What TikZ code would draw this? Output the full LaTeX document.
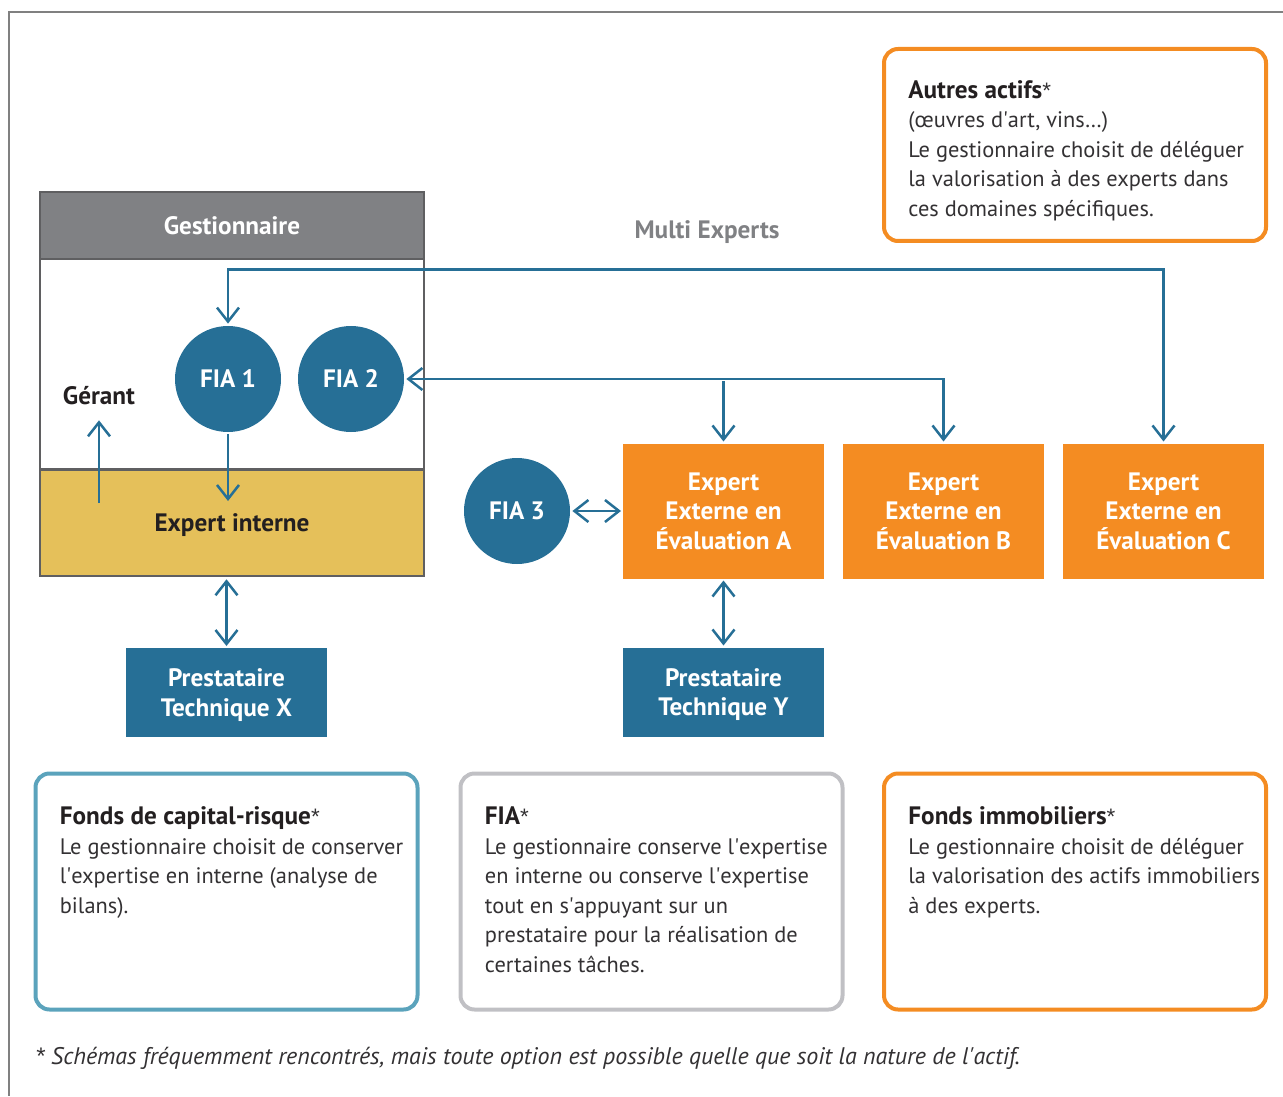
\documentclass[tikz,border=0pt]{standalone}
\usepackage{fontspec}
\setmainfont{PT Sans}
\newfontfamily\etoilefont{Liberation Sans}
\usetikzlibrary{arrows.meta,positioning}

\definecolor{fiableu}{HTML}{266F96}
\definecolor{orangexp}{HTML}{F48C22}
\definecolor{jaune}{HTML}{E5C05A}
\definecolor{grisentete}{HTML}{808184}
\definecolor{grisbord}{HTML}{5F5F61}
\definecolor{turquoise}{HTML}{5BA3BC}
\definecolor{grisclair}{HTML}{C0C0C4}
\definecolor{texte}{HTML}{231F20}
\definecolor{textecourant}{HTML}{333133}

% apostrophe droite, etoile de renvoi et titres des encadres
\newcommand{\apo}{\textquotesingle}
\newcommand{\etoile}{{\etoilefont *}}
\newcommand{\titre}[1]{{\fontsize{12.6}{14.75}\selectfont\bfseries\color{texte}#1}\etoile}

\begin{document}
\begin{tikzpicture}[
		x = 0.5pt, y = -0.5pt,
		every node/.style = {font=\fontsize{11.2}{14.75}\selectfont},
		gras/.style = {font=\fontsize{12.6}{14.75}\selectfont\bfseries},
		flux/.style = {draw=fiableu, line width=1.25pt, shorten >=1pt, shorten <=1pt,
			>={Straight Barb[length=7pt,width=11pt,line width=1.25pt]}},
		fia/.style = {circle, fill=fiableu, minimum size=53pt, inner sep=0pt, text=white, gras},
		expert/.style = {fill=orangexp, outer sep=0pt, minimum width=100.5pt, minimum height=67.5pt, text=white, align=center, gras},
		presta/.style = {fill=fiableu, outer sep=0pt, minimum width=100.5pt, minimum height=44.5pt, text depth=0pt, text=white, align=center, gras},
		bloc/.style = {draw=grisbord, line width=1.25pt, minimum width=192pt, gras},
		encadre/.style = {rounded corners=7pt, line width=2pt, minimum width=191pt, minimum height=118pt},
		note/.style = {anchor=north west, inner sep=0pt, align=left, text=textecourant}
	]

	\useasboundingbox (0,0) rectangle (1283,1096);
	\draw[gray, line width=0.6pt] (1283,12) -- (9,12) -- (9,1096);

	% gestionnaire
	\node[bloc, fill=grisentete, text=white, minimum height=33.5pt] (gest) at (232,225.5) {Gestionnaire};
	\node[bloc, minimum height=105pt] (zone) at (232,364) {};
	\node[bloc, fill=jaune, text=texte, text depth=0pt, minimum height=53pt] (interne) at (232,523) {Expert interne};
	\node[gras, text=texte] (gerant) at (99,396) {Gérant};

	\node[fia] (fia1) at (228,379) {FIA 1};
	\node[fia] (fia2) at (351,379) {FIA 2};
	\node[fia] (fia3) at (517,511) {FIA 3};

	\node[gras, text=grisentete] (multi) at (707,232) {Multi Experts};

	% experts externes
	\node[expert] (expa) at (723.5,511) {Expert\\Externe en\\Évaluation A};
	\node[expert, right=9.5pt of expa] (expb) {Expert\\Externe en\\Évaluation B};
	\node[expert, right=9.5pt of expb] (expc) {Expert\\Externe en\\Évaluation C};

	\node[presta] (prestx) at (226.5,692.5) {Prestataire\\Technique X};
	\node[presta, below=34.5pt of expa] (presty) {Prestataire\\Technique Y};

	% fleches
	\coordinate (gerantpied) at (99,505);
	\coordinate (fia1pied) at (228,503);
	\draw[flux,->, shorten >=4pt] (gerantpied) -- (gerant.south);
	\draw[flux,->] (fia1.south) -- (fia1pied);
	\draw[flux,<->] (prestx.north |- interne.south) -- (prestx.north);
	\draw[flux,<->] (expa.south) -- (presty.north);
	\draw[flux,<->] (fia3.east) -- (expa.west);
	\draw[flux,<->] (expb.north) |- (fia2.east);
	\draw[flux,->] (expa.north |- fia2.east) -- (expa.north);
	\draw[flux,<->] (fia1.north) -- ++(0,-56) -| (expc.north);

	% encadres
	\node[encadre, draw=orangexp, minimum height=96pt] (autres) at (1075,145) {};
	\node[note] at ([xshift=13pt,yshift=-16.5pt]autres.north west) {%
		\titre{Autres actifs}\\
		(œuvres d\apo art, vins…)\\
		Le gestionnaire choisit de déléguer\\
		la valorisation à des experts dans\\
		ces domaines spécifiques.};

	\node[encadre, draw=turquoise] (capital) at (226.5,891.5) {};
	\node[encadre, draw=grisclair] (fiaref) at (651.5,891.5) {};
	\node[encadre, draw=orangexp] (immo) at (1075,891.5) {};

	\node[note] at ([xshift=13pt,yshift=-17.5pt]capital.north west) {%
		\titre{Fonds de capital-risque}\\
		Le gestionnaire choisit de conserver\\
		l\apo expertise en interne (analyse de\\
		bilans).};
	\node[note] at ([xshift=13pt,yshift=-17.5pt]fiaref.north west) {%
		\titre{FIA}\\
		Le gestionnaire conserve l\apo expertise\\
		en interne ou conserve l\apo expertise\\
		tout en s\apo appuyant sur un\\
		prestataire pour la réalisation de\\
		certaines tâches.};
	\node[note] at ([xshift=13pt,yshift=-17.5pt]immo.north west) {%
		\titre{Fonds immobiliers}\\
		Le gestionnaire choisit de déléguer\\
		la valorisation des actifs immobiliers\\
		à des experts.};

	\node[anchor=west, inner sep=0pt, text=textecourant, font=\fontsize{12}{14.75}\selectfont\itshape] (renvoi) at (35,1058)
		{\etoile{} Schémas fréquemment rencontrés, mais toute option est possible quelle que soit la nature de l\apo actif.};

\end{tikzpicture}
\end{document}
